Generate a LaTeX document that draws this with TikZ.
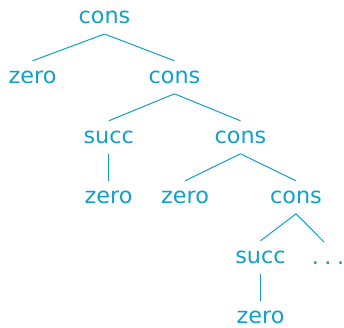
\documentclass[tikz,border=0pt]{standalone}
\usepackage{fontspec}
\setmainfont{DejaVu Sans}
\definecolor{treeblue}{RGB}{16,160,200}
\begin{document}
\begin{tikzpicture}[x=1bp,y=-1bp,
  lbl/.style={anchor=base,inner sep=0pt,text=treeblue,font=\fontsize{22.4}{26}\selectfont},
  edge/.style={draw=treeblue,line width=1bp}]
\useasboundingbox (0,0) rectangle (344,328);
\node[lbl] (c0) at (104.5,23.5) {cons};
\node[lbl] (z1) at (32.5,83.3) {zero};
\node[lbl] (c1) at (174.5,83.3) {cons};
\node[lbl] (s2) at (108.7,143.3) {succ};
\node[lbl] (c2) at (240.5,143.3) {cons};
\node[lbl] (z3a) at (108.5,203.3) {zero};
\node[lbl] (z3b) at (185,203.3) {zero};
\node[lbl] (c3) at (296,203.3) {cons};
\node[lbl] (s4) at (260.5,263.3) {succ};
\node[lbl] (dots) at (328,264) {.\kern0.25em.\kern0.25em.};
\node[lbl] (z5) at (260.5,323.3) {zero};
\foreach \p/\c in {c0/z1,c0/c1,c1/s2,c1/c2,c2/z3b,c2/c3,c3/s4}
  \draw[edge] ([yshift=-10.5bp]\p.base) -- ([yshift=22.5bp]\c.base);
\draw[edge] ([yshift=-10.5bp]c3.base) -- ([xshift=-4bp,yshift=22bp]dots.base);
\draw[edge] ([yshift=-10.5bp]s2.base) -- ([yshift=22.5bp]z3a.base);
\draw[edge] ([yshift=-10.5bp]s4.base) -- ([yshift=22.5bp]z5.base);
\end{tikzpicture}
\end{document}
